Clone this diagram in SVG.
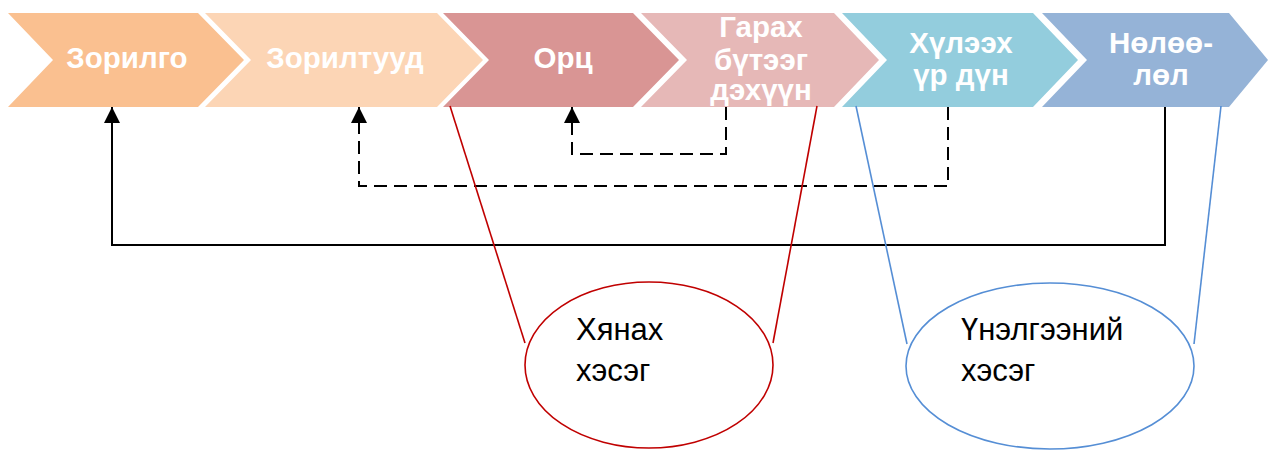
<svg xmlns="http://www.w3.org/2000/svg" width="1268" height="450" viewBox="0 0 1268 450">
<style>
.lbl{font-family:"Liberation Sans",Arial,sans-serif;font-weight:bold;font-size:29.5px;fill:#ffffff;text-anchor:middle}
.ell{font-family:"Liberation Sans",Arial,sans-serif;font-size:31px;fill:#000000}
.solid{fill:none;stroke:#000;stroke-width:2}
.dash{fill:none;stroke:#000;stroke-width:2;stroke-dasharray:13 7}
.red{fill:none;stroke:#C00000;stroke-width:1.6}
.blue{fill:none;stroke:#558ED5;stroke-width:1.6}
</style>
<defs>
<marker id="ah" viewBox="0 0 10 10" refX="10" refY="5" markerWidth="8" markerHeight="8" markerUnits="strokeWidth" orient="auto">
<path d="M0,0 L10,5 L0,10 Z" fill="#000"/>
</marker>
</defs>
<rect width="1268" height="450" fill="#fff"/>
<g id="n1"><polygon points="8,13 198,13 244,60 198,107 8,107 53,60" fill="#FAC090"/><text class="lbl" x="127" y="68">Зорилго</text></g>
<g id="n2"><polygon points="205,13 437,13 483,60 437,107 205,107 251,60" fill="#FCD5B5"/><text class="lbl" x="345" y="68">Зорилтууд</text></g>
<g id="n3"><polygon points="443,13 633,13 679,60 633,107 443,107 489,60" fill="#D99594"/><text class="lbl" x="563" y="68">Орц</text></g>
<g id="n4"><polygon points="641,13 834,13 879,60 834,107 641,107 687,60" fill="#E6B8B7"/><text class="lbl" x="761" y="37">Гарах</text><text class="lbl" x="761" y="70">бүтээг</text><text class="lbl" x="761" y="100">дэхүүн</text></g>
<g id="n5"><polygon points="842,13 1033,13 1078,60 1033,107 842,107 887,60" fill="#93CDDD"/><text class="lbl" x="961" y="53">Хүлээх</text><text class="lbl" x="961" y="85">үр дүн</text></g>
<g id="n6"><polygon points="1042,13 1229,13 1268,60 1229,107 1042,107 1087,60" fill="#95B3D7"/><text class="lbl" x="1161" y="53">Нөлөө-</text><text class="lbl" x="1161" y="85">лөл</text></g>
<g id="e1"><ellipse cx="649" cy="365" rx="124" ry="83" fill="#fff" class="red"/><text class="ell" x="576" y="340">Хянах</text><text class="ell" x="576" y="381">хэсэг</text></g>
<g id="e2"><ellipse cx="1050" cy="366" rx="144" ry="83" fill="#fff" class="blue"/><text class="ell" x="961" y="340">Үнэлгээний</text><text class="ell" x="961" y="381">хэсэг</text></g>
<g id="connectors">
<polyline class="solid" points="1165,107 1165,245 112,245 112,107" marker-end="url(#ah)"/>
<polyline class="dash" points="948,107 948,186 359,186 359,107" marker-end="url(#ah)"/>
<polyline class="dash" points="726,107 726,154 572,154 572,107" marker-end="url(#ah)"/>
<line class="red" x1="450" y1="106" x2="525" y2="343"/>
<line class="red" x1="817" y1="106" x2="773" y2="343"/>
<line class="blue" x1="856" y1="106" x2="907" y2="344"/>
<line class="blue" x1="1221" y1="106" x2="1194" y2="344"/>
</g>
</svg>
